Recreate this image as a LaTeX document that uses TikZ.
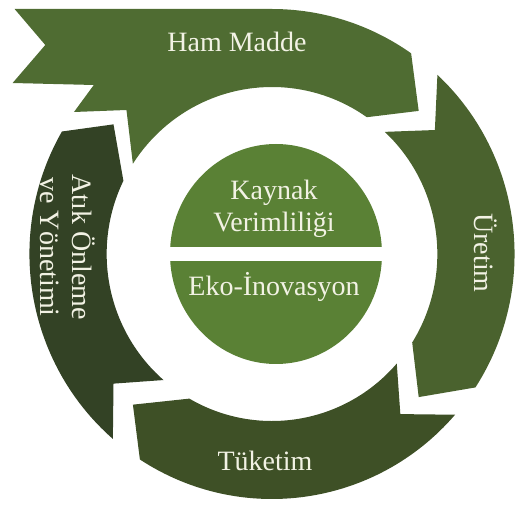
\documentclass[tikz,border=0pt]{standalone}
\usepackage{fontspec}
\setmainfont{Liberation Serif}

\definecolor{hamgreen}{RGB}{79,108,50}
\definecolor{uretimgreen}{RGB}{74,98,46}
\definecolor{tuketimgreen}{RGB}{62,80,38}
\definecolor{atikgreen}{RGB}{51,66,37}
\definecolor{discgreen}{RGB}{90,129,53}
\definecolor{labelcream}{RGB}{242,242,228}

\begin{document}
\begin{tikzpicture}[x=1pt, y=1pt, line join=round,
		cyclelabel/.style={text=labelcream, font=\fontsize{28}{32}\selectfont, align=center, inner sep=0pt}]
		
		\useasboundingbox (-272,-252) rectangle (243,254);
		
		% --- Ring of four arrows (outer radius 245, inner 167, tips on 206) ---
		\begin{scope}[xscale=0.99]
			% Ham Madde, with the flag tail on the left
			\fill[hamgreen] (147.3:167) -- (-147,144) -- (-200,142) -- (-180,169)
			-- (-262,171) -- (-229,209) -- (-260,245) -- (90:245)
			arc[start angle=90, end angle=55, radius=245] -- (44:206) -- (55:167)
			arc[start angle=55, end angle=147.3, radius=167] -- cycle;
			
			% Üretim
			\fill[uretimgreen] (47:245) arc[start angle=47, end angle=-33, radius=245]
			-- (-44:206) -- (-32:167) arc[start angle=-32, end angle=47, radius=167]
			-- (37:206) -- cycle;
			
			% Tüketim
			\fill[tuketimgreen] (-41:245) arc[start angle=-41, end angle=-123, radius=245]
			-- (-133:206) -- (-120:167) arc[start angle=-120, end angle=-41, radius=167]
			-- (-51:206) -- cycle;
			
			% Atık Önleme ve Yönetimi
			\fill[atikgreen] (229:245) arc[start angle=229, end angle=150, radius=245]
			-- (141:206) -- (154:167) arc[start angle=154, end angle=229, radius=167]
			-- (219:206) -- cycle;
		\end{scope}
		
		% --- Centre disc, cut in two by a white band ---
		\fill[discgreen] (4,0) ellipse [x radius=106, y radius=110];
		\fill[white] (-110,-7) rectangle (118,7);
		
		% --- Labels ---
		\node[cyclelabel, anchor=base] (hammadde) at (-35,202) {Ham Madde};
		\node[cyclelabel, anchor=base, rotate=-90] (uretim) at (203,1) {Üretim};
		\node[cyclelabel, anchor=base] (tuketim) at (-7,-217) {Tüketim};
		\node[cyclelabel, rotate=-90] (atik) at (-204,7) {Atık Önleme\\ve Yönetimi};
		\node[cyclelabel] (kaynak) at (2,45) {Kaynak\\Verimliliği};
		\node[cyclelabel, anchor=base] (eko) at (2,-42) {Eko-İnovasyon};
		
	\end{tikzpicture}
\end{document}
